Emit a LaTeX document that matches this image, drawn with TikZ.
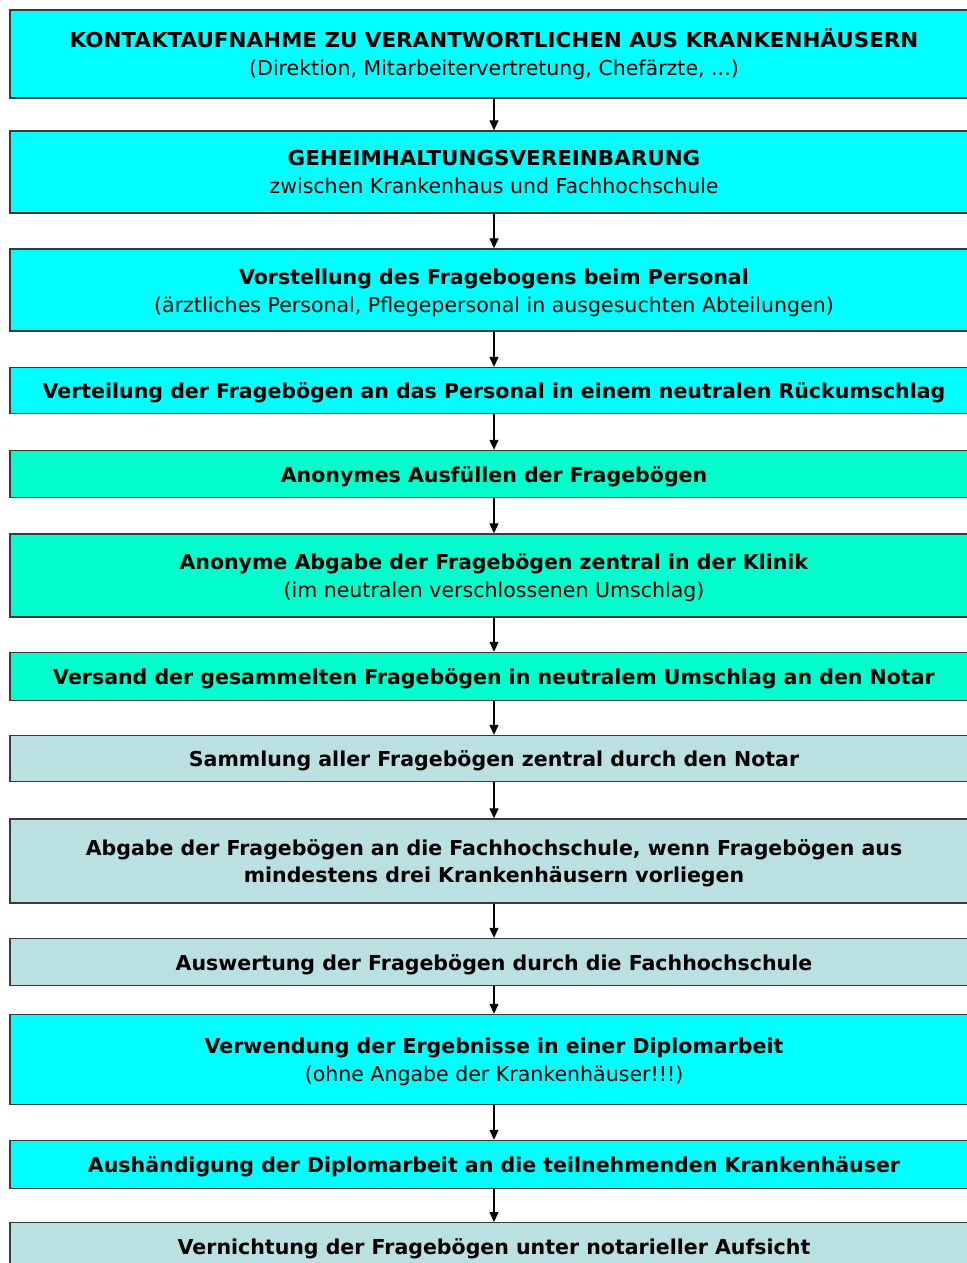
\documentclass[tikz,border=0pt]{standalone}
\usepackage{fontspec}
\usepackage{graphicx}
\setmainfont{DejaVu Sans}
\usetikzlibrary{arrows.meta}
\definecolor{boxcyan}{HTML}{00FFFF}
\definecolor{boxaqua}{HTML}{00FFCC}
\definecolor{boxgrey}{HTML}{BAE0E1}
\definecolor{boxline}{HTML}{3A3A3A}
% capitals are set a little wider
\newcommand{\widecaps}[1]{\scalebox{1.045}[1]{#1}}
% invisible strut that lowers the text slightly inside its box
\newcommand{\lowstrut}{\rule{0pt}{20.5bp}}
\tikzset{
  stepbox/.style={draw=boxline, line width=1.4bp, minimum width=968bp,
    inner sep=0pt, align=center, font=\fontsize{20.6}{28}\selectfont},
  arr/.style={line width=1.3bp, -{Triangle[width=9bp,length=10bp]}}
}
\begin{document}
\begin{tikzpicture}[x=1bp,y=-1bp]
\useasboundingbox (0,0) rectangle (967,1263);
\node[stepbox, fill=boxcyan, minimum height=88bp] (b1) at (494,54)
  {\widecaps{\textbf{KONTAKTAUFNAHME ZU VERANTWORTLICHEN AUS KRANKENHÄUSERN}}\\(Direktion, Mitarbeitervertretung, Chefärzte, ...)};
\node[stepbox, fill=boxcyan, minimum height=82bp] (b2) at (494,172)
  {\widecaps{\textbf{GEHEIMHALTUNGSVEREINBARUNG}}\\zwischen Krankenhaus und Fachhochschule};
\node[stepbox, fill=boxcyan, minimum height=82bp] (b3) at (494,290)
  {\lowstrut\textbf{Vorstellung des Fragebogens beim Personal}\\(ärztliches Personal, Pflegepersonal in ausgesuchten Abteilungen)};
\node[stepbox, fill=boxcyan, minimum height=46bp] (b4) at (494,390.5)
  {\lowstrut\textbf{Verteilung der Fragebögen an das Personal in einem neutralen Rückumschlag}};
\node[stepbox, fill=boxaqua, minimum height=47bp] (b5) at (494,474)
  {\lowstrut\textbf{Anonymes Ausfüllen der Fragebögen}};
\node[stepbox, fill=boxaqua, minimum height=83bp] (b6) at (494,575.5)
  {\lowstrut\textbf{Anonyme Abgabe der Fragebögen zentral in der Klinik}\\(im neutralen verschlossenen Umschlag)};
\node[stepbox, fill=boxaqua, minimum height=48bp] (b7) at (494,676.5)
  {\lowstrut\textbf{Versand der gesammelten Fragebögen in neutralem Umschlag an den Notar}};
\node[stepbox, fill=boxgrey, minimum height=46bp] (b8) at (494,758.5)
  {\lowstrut\textbf{Sammlung aller Fragebögen zentral durch den Notar}};
\node[stepbox, fill=boxgrey, minimum height=84bp] (b9) at (494,861)
  {\lowstrut\textbf{Abgabe der Fragebögen an die Fachhochschule, wenn Fragebögen aus}\\\textbf{mindestens drei Krankenhäusern vorliegen}};
\node[stepbox, fill=boxgrey, minimum height=47bp] (b10) at (494,962)
  {\lowstrut\textbf{Auswertung der Fragebögen durch die Fachhochschule}};
\node[stepbox, fill=boxcyan, minimum height=90bp] (b11) at (494,1059.5)
  {\lowstrut\textbf{Verwendung der Ergebnisse in einer Diplomarbeit}\\(ohne Angabe der Krankenhäuser!!!)};
\node[stepbox, fill=boxcyan, minimum height=48bp] (b12) at (494,1164.5)
  {\lowstrut\textbf{Aushändigung der Diplomarbeit an die teilnehmenden Krankenhäuser}};
\node[stepbox, fill=boxgrey, minimum height=50bp, anchor=north] (b13) at (494,1222) {};
\node[font=\fontsize{20.6}{28}\selectfont\bfseries] (t13) at (494,1249)
  {Vernichtung der Fragebögen unter notarieller Aufsicht};
\foreach \a/\b in {b1/b2,b2/b3,b3/b4,b4/b5,b5/b6,b6/b7,b7/b8,b8/b9,b9/b10,b10/b11,b11/b12,b12/b13}
  \draw[arr] (\a.south) -- (\b.north);
\end{tikzpicture}
\end{document}
